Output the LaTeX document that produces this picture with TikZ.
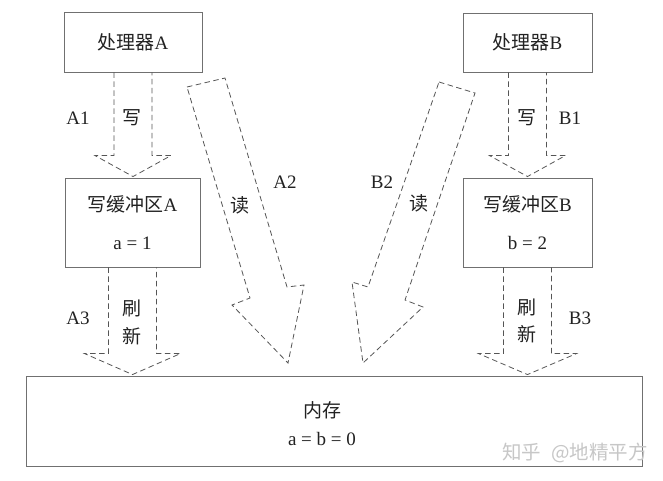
\documentclass[tikz,border=0pt]{standalone}
\usepackage{fontspec}
\setmainfont{Liberation Serif}
\newfontfamily\cjk{Noto Sans CJK SC}
\usetikzlibrary{calc}
\definecolor{bordergray}{HTML}{707070}
\definecolor{dashgray}{HTML}{555555}
\definecolor{txt}{HTML}{222222}
\newcommand\zh[1]{{\cjk #1}}
\newcommand\fsz{\fontsize{19}{23}\selectfont}
% vertical dashed block arrow: source, target, half shaft, half wing
\newcommand\dblockarrow[4]{%
  \draw[darr] ($(#1.south)+(-#3,0)$) -- ($(#1.south |- #2.north)+(-#3,-22)$)
    -- ($(#1.south |- #2.north)+(-#4,-22)$) -- ($(#1.south |- #2.north)+(0,-1)$)
    -- ($(#1.south |- #2.north)+(#4,-22)$) -- ($(#1.south |- #2.north)+(#3,-22)$)
    -- ($(#1.south)+(#3,0)$);}
\begin{document}
\begin{tikzpicture}[x=1pt,y=-1pt,
  boxnode/.style={draw=bordergray, line width=0.9pt, inner sep=0pt, font=\fsz, text=txt},
  darr/.style={draw=dashgray, line width=0.8pt, dash pattern=on 5.5pt off 3.5pt},
  lbl/.style={font=\fsz, text=txt, inner sep=0pt}]
\useasboundingbox[fill=white] (0,0) rectangle (663,481);

\node[boxnode, minimum width=138pt, minimum height=60pt] (pA) at (133,42) {\zh{处理器}A};
\node[boxnode, minimum width=135pt, minimum height=89pt, align=center] (bA) at (132.5,222.5) {\zh{写缓冲区}A\\[15pt]a = 1};
\node[boxnode, minimum width=129pt, minimum height=59pt] (pB) at (527.5,42.5) {\zh{处理器}B};
\node[boxnode, minimum width=129pt, minimum height=89pt, align=center] (bB) at (527.5,222.5) {\zh{写缓冲区}B\\[15pt]b = 2};
\node[boxnode, minimum width=616pt, minimum height=90pt] (mem) at (334,421) {};
\node[lbl, align=center] (memt) at (322,424) {\zh{内存}\\[5pt]a = b = 0};

\dblockarrow{pA}{bA}{19}{38}
\dblockarrow{bA}{mem}{24}{48}
\dblockarrow{pB}{bB}{19}{38}
\dblockarrow{bB}{mem}{24}{49}

% read arrows
\draw[darr] (187,87) -- (225,78) -- (287,287) -- (304,285) -- (288,363) -- (232,305) -- (250,298) -- cycle;
\draw[darr] (439,82) -- (475,93) -- (405,300) -- (423,307) -- (363,363) -- (352,282) -- (368,287) -- cycle;

\node[lbl] (lA1) at (78,118) {A1};
\node[lbl] (wA) at (132,118) {\zh{写}};
\node[lbl] (lA3) at (78,318) {A3};
\node[lbl] (sA1) at (132,308) {\zh{刷}};
\node[lbl] (sA2) at (132,336) {\zh{新}};
\node[lbl] (lB1) at (570,118) {B1};
\node[lbl] (wB) at (527,118) {\zh{写}};
\node[lbl] (lB3) at (580,318) {B3};
\node[lbl] (sB1) at (527,307) {\zh{刷}};
\node[lbl] (sB2) at (527,334) {\zh{新}};
\node[lbl] (rA) at (240,205) {\zh{读}};
\node[lbl] (lA2) at (285,182) {A2};
\node[lbl] (lB2) at (382,182) {B2};
\node[lbl] (rB) at (419,203) {\zh{读}};

\node[inner sep=0pt, font=\cjk\fontsize{19.5}{19.5}\selectfont, text=black!22] (wm) at (575,453) {知乎\hspace{6pt} @地精平方};
\end{tikzpicture}
\end{document}
